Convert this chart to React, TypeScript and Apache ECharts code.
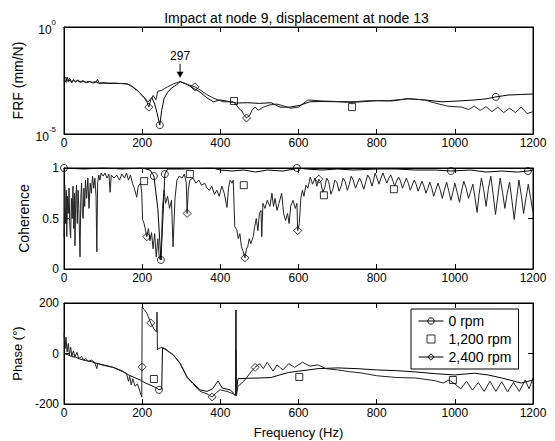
import React, { useEffect, useRef } from "react";
import * as echarts from "echarts";

const FONT = '"Liberation Sans", Arial, Helvetica, sans-serif';

const titleText = "Impact at node 9, displacement at node 13";
const seriesNames = ["0 rpm", "1,200 rpm", "2,400 rpm"];
const freqMin = 0;
const freqMax = 1200;
const freqStep = 200;
const peakFreq = 297;
const peakFrf = 2.8e-3;

// FRF (mm/N), log scale
const frf0: number[][] = [[0,4.2e-3],[5,2.6e-3],[8,4.5e-3],[12,2.8e-3],[16,3.6e-3],[20,2.5e-3],[25,3.2e-3],[30,2.7e-3],[36,3.4e-3],[42,2.6e-3],[50,2.9e-3],[58,2.5e-3],[66,2.8e-3],[75,2.4e-3],[82,2.7e-3],[86,3.6e-3],[90,2.3e-3],[100,2.4e-3],[115,2.3e-3],[130,2.3e-3],[145,2.3e-3],[161,2.2e-3],[170,1.9e-3],[180,1.4e-3],[190,1.0e-3],[200,6.3e-4],[208,4.5e-4],[215,3.2e-4],[220,4.0e-4],[225,5.0e-4],[232,2.5e-4],[238,1.0e-4],[245,2.6e-5],[250,1.26e-4],[256,4.5e-4],[265,8.9e-4],[275,1.4e-3],[288,2.0e-3],[297,2.8e-3],[310,2.3e-3],[325,1.6e-3],[348,9.1e-4],[365,5.0e-4],[382,3.2e-4],[399,3.9e-4],[415,3.5e-4],[432,3.0e-4],[442,2.8e-4],[470,2.9e-4],[500,2.7e-4],[530,2.9e-4],[553,1.8e-4],[578,1.8e-4],[604,2.2e-4],[629,3.2e-4],[660,3.3e-4],[700,3.2e-4],[737,3.0e-4],[770,3.3e-4],[800,3.6e-4],[840,3.5e-4],[880,4.5e-4],[923,3.9e-4],[967,3.2e-4],[1010,3.5e-4],[1051,3.9e-4],[1080,4.4e-4],[1105,5.4e-4],[1136,6.6e-4],[1170,7.0e-4],[1200,7.4e-4]];
const frf2400: number[][] = [[0,3.0e-3],[4,4.4e-3],[9,2.9e-3],[14,4.0e-3],[19,2.6e-3],[24,3.5e-3],[29,2.9e-3],[34,3.1e-3],[40,2.7e-3],[48,3.1e-3],[56,2.6e-3],[64,2.9e-3],[72,2.6e-3],[80,2.8e-3],[88,2.4e-3],[100,2.5e-3],[115,2.4e-3],[130,2.4e-3],[145,2.3e-3],[161,2.2e-3],[175,1.6e-3],[190,1.0e-3],[205,5.0e-4],[212,3.2e-4],[217,1.8e-4],[222,4.0e-4],[228,6.3e-4],[235,4.0e-4],[240,1.0e-3],[250,1.1e-3],[265,1.6e-3],[280,2.2e-3],[297,2.8e-3],[315,2.1e-3],[335,1.6e-3],[348,1.15e-3],[365,7.0e-4],[382,4.8e-4],[407,3.2e-4],[432,3.2e-4],[440,2.5e-4],[448,1.5e-4],[455,1.2e-4],[460,8e-5],[467,5.6e-5],[476,7.8e-5],[481,1.3e-4],[489,1.8e-4],[497,1.3e-4],[510,1.8e-4],[527,2.3e-4],[545,2.5e-4],[560,2.1e-4],[580,1.6e-4],[600,1.8e-4],[624,3.9e-4],[660,3.5e-4],[700,3.3e-4],[737,3.2e-4],[780,3.6e-4],[830,3.6e-4],[880,4.4e-4],[923,3.9e-4],[949,2.8e-4],[982,2.0e-4],[1018,1.8e-4],[1035,1.4e-4],[1050,2.0e-4],[1065,1.26e-4],[1080,1.9e-4],[1095,1.1e-4],[1110,1.8e-4],[1125,1.0e-4],[1140,1.6e-4],[1155,1.0e-4],[1170,1.8e-4],[1185,9e-5],[1200,1.1e-4]];
const frfMk0: number[][] = [[245,2.6e-5],[1105,5.4e-4]];
const frfMk1200: number[][] = [[435,3.5e-4],[737,1.8e-4]];
const frfMk2400: number[][] = [[217,1.8e-4],[335,1.6e-3],[467,5.6e-5]];

// Coherence
const coh0: number[][] = [[0,1.0],[50,0.99],[100,1.0],[150,0.99],[200,1.0],[220,0.98],[230,0.92],[240,0.6],[248,0.09],[253,0.5],[258,0.94],[265,0.99],[300,0.99],[380,1.0],[400,0.98],[430,0.97],[460,0.98],[490,0.96],[520,0.98],[560,0.97],[590,0.99],[596,1.0],[620,0.99],[660,0.98],[700,0.99],[740,0.98],[800,0.99],[850,0.99],[900,0.98],[950,0.98],[990,0.97],[1040,0.98],[1080,0.96],[1120,0.97],[1160,0.96],[1187,0.97],[1200,0.98]];
const coh2400: number[][] = [[0,0.32],[2,0.83],[4,0.45],[6,0.78],[7,0.32],[9,0.72],[11,0.55],[13,0.8],[15,0.4],[17,0.31],[19,0.7],[21,0.5],[23,0.82],[25,0.4],[27,0.75],[28,0.23],[30,0.68],[32,0.83],[34,0.45],[36,0.78],[38,0.6],[41,0.12],[43,0.7],[45,0.85],[47,0.55],[49,0.5],[51,0.8],[53,0.62],[55,0.88],[58,0.7],[61,0.9],[64,0.6],[67,0.85],[70,0.75],[73,0.92],[76,0.8],[79,0.9],[82,0.72],[84,0.17],[86,0.85],[89,0.93],[92,0.88],[95,0.95],[100,0.92],[105,0.95],[110,0.9],[115,0.94],[118,0.76],[121,0.93],[128,0.9],[135,0.93],[142,0.88],[148,0.94],[155,0.9],[160,0.95],[165,0.88],[170,0.93],[175,0.85],[180,0.8],[186,0.71],[190,0.82],[196,0.85],[199,0.75],[201,0.49],[205,0.45],[212,0.32],[216,0.4],[220,0.28],[224,0.36],[228,0.2],[232,0.35],[236,0.12],[240,0.3],[244,0.1],[248,0.09],[252,0.6],[256,0.78],[260,0.65],[265,0.72],[270,0.6],[275,0.68],[279,0.22],[284,0.7],[289,0.88],[295,0.92],[302,0.9],[308,0.94],[313,0.85],[315,0.55],[318,0.78],[322,0.88],[330,0.9],[338,0.85],[345,0.88],[352,0.83],[360,0.85],[366,0.8],[372,0.78],[378,0.82],[385,0.74],[391,0.78],[397,0.72],[404,0.82],[410,0.75],[417,0.61],[421,0.8],[425,0.88],[430,0.85],[433,0.88],[437,0.42],[442,0.39],[446,0.3],[450,0.35],[454,0.22],[458,0.18],[463,0.11],[467,0.2],[470,0.22],[474,0.3],[478,0.25],[484,0.32],[488,0.42],[492,0.5],[496,0.38],[500,0.55],[504,0.58],[506,0.32],[509,0.65],[514,0.6],[520,0.68],[527,0.62],[532,0.75],[536,0.62],[540,0.7],[545,0.58],[550,0.65],[557,0.75],[562,0.55],[567,0.48],[572,0.55],[576,0.45],[580,0.62],[586,0.68],[592,0.6],[596,0.65],[598,0.38],[602,0.45],[606,0.7],[610,0.78],[614,0.72],[619,0.83],[624,0.8],[630,0.91],[636,0.84],[642,0.9],[647,0.82],[652,0.89],[657,0.86],[662,0.76],[667,0.8],[672,0.9],[677,0.87],[683,0.74],[688,0.79],[693,0.88],[698,0.86],[704,0.77],[709,0.82],[714,0.9],[719,0.87],[725,0.78],[730,0.84],[735,0.92],[740,0.88],[746,0.8],[751,0.85],[756,0.9],[761,0.86],[767,0.79],[772,0.86],[777,0.93],[782,0.9],[788,0.82],[792,0.88],[796,0.95],[801,0.9],[806,0.84],[811,0.9],[816,0.95],[821,0.9],[826,0.85],[831,0.9],[836,0.93],[841,0.88],[846,0.82],[851,0.87],[856,0.91],[861,0.87],[866,0.8],[871,0.85],[876,0.9],[881,0.85],[886,0.78],[891,0.83],[896,0.88],[901,0.84],[906,0.77],[911,0.82],[916,0.87],[921,0.82],[926,0.75],[931,0.8],[936,0.86],[941,0.8],[946,0.72],[951,0.78],[957,0.85],[962,0.79],[968,0.7],[973,0.78],[979,0.86],[984,0.78],[990,0.68],[995,0.76],[1000,0.85],[1006,0.76],[1012,0.66],[1017,0.77],[1023,0.87],[1029,0.8],[1035,0.7],[1040,0.76],[1046,0.84],[1051,0.72],[1057,0.56],[1062,0.74],[1068,0.9],[1074,0.78],[1080,0.62],[1086,0.8],[1092,0.92],[1098,0.74],[1104,0.54],[1110,0.72],[1116,0.9],[1122,0.76],[1128,0.6],[1134,0.75],[1140,0.86],[1146,0.68],[1152,0.49],[1158,0.7],[1164,0.88],[1170,0.73],[1176,0.55],[1182,0.7],[1188,0.84],[1194,0.7],[1200,0.56]];
const cohMk0: number[][] = [[0,1.0],[230,0.92],[248,0.09],[258,0.94],[596,1.0],[990,0.97],[1187,0.97]];
const cohMk1200: number[][] = [[205,0.87],[322,0.94],[460,0.83],[665,0.73],[844,0.79]];
const cohMk2400: number[][] = [[212,0.32],[315,0.55],[463,0.11],[598,0.38],[652,0.89]];

// Phase (deg)
const ph0: number[][] = [[0,0],[10,-5],[20,-12],[30,-15],[41,-22],[55,-28],[70,-32],[85,-40],[100,-45],[115,-50],[130,-57],[150,-70],[165,-85],[180,-95],[195,-105],[210,-118],[225,-128],[235,-135],[243,-144],[250,-140],[252,22],[260,18],[270,5],[280,-6],[297,-38],[315,-93],[330,-117],[348,-144],[366,-150],[380,-140],[394,-109],[405,-137],[425,-144],[436,-160],[439,-165],[440,172],[441,-160],[445,-100],[470,-98],[500,-97],[530,-95],[552,-85],[575,-75],[600,-70],[650,-60],[700,-57],[750,-60],[800,-65],[850,-68],[900,-73],[950,-80],[1000,-85],[1050,-78],[1085,-85],[1120,-97],[1170,-117],[1200,-105]];
const ph2400: number[][] = [[0,81],[3,20],[5,65],[8,6],[11,40],[14,-6],[17,25],[20,-10],[24,10],[28,-14],[33,5],[38,-20],[45,-12],[50,-26],[56,-20],[62,-32],[70,-26],[78,-34],[84,-60],[86,-38],[95,-44],[110,-50],[125,-55],[140,-65],[150,-72],[160,-80],[165,-110],[168,-90],[172,-125],[176,-100],[182,-130],[188,-120],[194,-150],[199,-172],[200,184],[205,175],[212,160],[222,121],[232,93],[237,85],[238,164],[239,14],[242,20],[250,24],[254,22],[265,10],[280,-6],[297,-40],[315,-95],[330,-120],[348,-150],[366,-160],[379,-172],[390,-155],[399,-144],[417,-150],[433,-160],[439,-168],[440,14],[441,-168],[445,-130],[460,-110],[480,-70],[489,-55],[500,-40],[510,-60],[520,-35],[535,-70],[545,-45],[560,-65],[575,-40],[590,-55],[610,-35],[630,-50],[650,-45],[670,-60],[700,-65],[730,-72],[760,-77],[800,-88],[850,-95],[900,-97],[950,-108],[970,-117],[985,-105],[1000,-120],[1015,-140],[1030,-110],[1045,-145],[1060,-115],[1075,-150],[1090,-110],[1105,-150],[1120,-112],[1135,-152],[1150,-115],[1165,-150],[1180,-105],[1190,-140],[1200,-97]];
const phMk0: number[][] = [[243,-144]];
const phMk1200: number[][] = [[230,-101],[602,-93],[995,-105]];
const phMk2400: number[][] = [[200,-53],[222,121],[379,-172],[489,-55]];

const GRID_LEFT = 64;
const GRID_W = 469;
const grids = [
  { top: 27, height: 107 },
  { top: 168, height: 101 },
  { top: 303, height: 101 },
];

const HOLLOW = "rgba(255,255,255,0)";
const SQUARE = "path://M0,0H10V10H0Z";

function xAxes(gi: number, withName: boolean) {
  const base = {
    type: "value",
    gridIndex: gi,
    min: freqMin,
    max: freqMax,
    interval: freqStep,
    axisLine: { show: true, onZero: false, lineStyle: { color: "#000", width: 1 } },
    axisTick: { show: true, inside: true, length: 5, lineStyle: { color: "#000" } },
    splitLine: { show: false },
  };
  return [
    {
      ...base,
      position: "bottom",
      axisLabel: {
        show: true,
        color: "#000",
        fontFamily: FONT,
        fontSize: 12,
        margin: 3,
        formatter: (v: number) => String(v),
      },
      ...(withName
        ? {
            name: "Frequency (Hz)",
            nameLocation: "middle",
            nameGap: 22,
            nameTextStyle: { color: "#000", fontFamily: FONT, fontSize: 13 },
          }
        : {}),
    },
    { ...base, position: "top", axisLabel: { show: false } },
  ];
}

function yAxes(gi: number, cfg: any) {
  const base = {
    gridIndex: gi,
    axisLine: { show: true, onZero: false, lineStyle: { color: "#000", width: 1 } },
    axisTick: { show: true, inside: true, length: 5, lineStyle: { color: "#000" } },
    splitLine: { show: false },
    ...cfg.scale,
  };
  return [
    {
      ...base,
      position: "left",
      name: cfg.name,
      nameLocation: "middle",
      nameGap: cfg.nameGap,
      nameTextStyle: { color: "#000", fontFamily: FONT, fontSize: cfg.nameSize },
      axisLabel: { color: "#000", fontFamily: FONT, fontSize: 12, margin: cfg.margin, ...(cfg.label || {}) },
    },
    { ...base, position: "right", axisLabel: { show: false } },
  ];
}

function lineSeries(name: string, data: number[][], gi: number, symbol: string, color: string, extra: any = {}) {
  return {
    type: "line",
    name,
    data,
    xAxisIndex: gi * 2,
    yAxisIndex: gi * 2,
    showSymbol: false,
    symbol,
    symbolSize: 7,
    lineStyle: { color, width: 1 },
    itemStyle: { color: HOLLOW, borderColor: "#000", borderWidth: 1 },
    emphasis: { disabled: true },
    silent: true,
    z: 2,
    ...extra,
  };
}

function markSeries(name: string, data: number[][], gi: number, symbol: string, size: number) {
  return {
    type: "scatter",
    name,
    data,
    xAxisIndex: gi * 2,
    yAxisIndex: gi * 2,
    symbol,
    symbolSize: size,
    itemStyle: { color: HOLLOW, borderColor: "#000", borderWidth: 1 },
    emphasis: { disabled: true },
    silent: true,
    z: 3,
  };
}

export default function App() {
  const ref = useRef<HTMLDivElement>(null);
  useEffect(() => {
    if (!ref.current) return;
    const chart = echarts.init(ref.current, undefined, { renderer: "svg" });
    const option: any = {
      animation: false,
      backgroundColor: "#fff",
      textStyle: { fontFamily: FONT },
      grid: grids.map((g) => ({
        left: GRID_LEFT,
        width: GRID_W,
        top: g.top,
        height: g.height,
        show: true,
        borderColor: "#000",
        borderWidth: 1,
        backgroundColor: "transparent",
        outerBoundsMode: "none",
        containLabel: false,
      })),
      graphic: [
        {
          type: "text",
          x: GRID_LEFT + GRID_W / 2 - 2,
          y: 11,
          style: { text: titleText, align: "center", verticalAlign: "top", font: `14px ${FONT}`, fill: "#000" },
        },
      ],
      legend: {
        data: [{ name: seriesNames[0] }, { name: seriesNames[1], icon: SQUARE }, { name: seriesNames[2] }],
        orient: "vertical",
        left: 411,
        top: 309,
        padding: [4, 7, 4, 7],
        itemGap: 2,
        itemWidth: 25,
        itemHeight: 8,
        symbolKeepAspect: true,
        backgroundColor: "#fff",
        borderColor: "#000",
        borderWidth: 1,
        borderRadius: 0,
        selectedMode: false,
        itemStyle: { color: HOLLOW, borderColor: "#000", borderWidth: 1 },
        lineStyle: { color: "#000", width: 1 },
        textStyle: { color: "#000", fontFamily: FONT, fontSize: 14, lineHeight: 16 },
        z: 10,
      },
      xAxis: [...xAxes(0, false), ...xAxes(1, false), ...xAxes(2, true)],
      yAxis: [
        ...yAxes(0, {
          name: "FRF (mm/N)",
          nameGap: 32,
          nameSize: 14,
          margin: 8,
          scale: { type: "log", logBase: 10, min: 1e-5, max: 1, interval: 5 },
          label: {
            formatter: (v: number) => `{b|10}{s|${Math.round(Math.log10(v))}}`,
            rich: {
              b: { fontSize: 12, fontFamily: FONT, color: "#000", verticalAlign: "bottom", lineHeight: 18 },
              s: { fontSize: 8, fontFamily: FONT, color: "#000", verticalAlign: "top", lineHeight: 18 },
            },
          },
        }),
        ...yAxes(1, {
          name: "Coherence",
          nameGap: 31,
          nameSize: 14,
          margin: 5,
          scale: { type: "value", min: 0, max: 1, interval: 0.5 },
        }),
        ...yAxes(2, {
          name: "Phase (\u00b0)",
          nameGap: 37,
          nameSize: 13,
          margin: 5,
          scale: { type: "value", min: -200, max: 200, interval: 200 },
        }),
      ],
      series: [
        lineSeries(seriesNames[0], frf0, 0, "circle", "#000", {
          markPoint: {
            silent: true,
            symbol: "path://M3,0L4,0L4,8L7,8L3.5,14L0,8L3,8Z",
            symbolSize: [7, 14],
            symbolOffset: [0, -11],
            symbolKeepAspect: false,
            itemStyle: { color: "#000", borderWidth: 0 },
            label: { show: true, position: "top", distance: 2, formatter: "{c}", color: "#000", fontFamily: FONT, fontSize: 12 },
            data: [{ coord: [peakFreq, peakFrf], value: peakFreq }],
          },
        }),
        lineSeries(seriesNames[2], frf2400, 0, "diamond", "#222"),
        lineSeries(seriesNames[0], coh0, 1, "circle", "#000"),
        lineSeries(seriesNames[2], coh2400, 1, "diamond", "#222"),
        lineSeries(seriesNames[0], ph0, 2, "circle", "#000"),
        lineSeries(seriesNames[2], ph2400, 2, "diamond", "#222"),
        markSeries(seriesNames[1], frfMk1200, 0, SQUARE, 7),
        markSeries(seriesNames[1], cohMk1200, 1, SQUARE, 7),
        markSeries(seriesNames[1], phMk1200, 2, SQUARE, 7),
        markSeries(seriesNames[0], frfMk0, 0, "circle", 7),
        markSeries(seriesNames[0], cohMk0, 1, "circle", 7),
        markSeries(seriesNames[0], phMk0, 2, "circle", 7),
        markSeries(seriesNames[2], frfMk2400, 0, "diamond", 8),
        markSeries(seriesNames[2], cohMk2400, 1, "diamond", 8),
        markSeries(seriesNames[2], phMk2400, 2, "diamond", 8),
      ],
    };
    chart.setOption(option);
    return () => chart.dispose();
  }, []);
  return (
    <div
      ref={ref}
      style={{ position: "fixed", left: 0, top: 0, width: 555, height: 441, background: "#fff" }}
    />
  );
}
